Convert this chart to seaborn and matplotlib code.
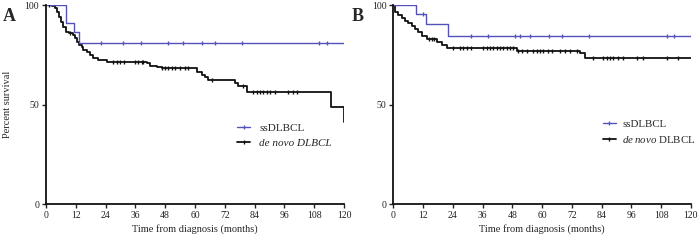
import numpy as np
import matplotlib
matplotlib.use("Agg")
import matplotlib.pyplot as plt
from matplotlib.lines import Line2D
import seaborn as sns

# ---- data (months, percent survival) ----
# panel A
a_ss_time = [0, 8.0, 11.3, 13.3, 120]
a_ss_surv = [100, 91.0, 86.3, 81.0, 81.0]
a_ss_cens = [22.0, 31.1, 38.1, 49.0, 55.1, 63.0, 67.9, 79.1, 109.9, 113.0]

a_dn_time = [0, 2.3, 3.6, 4.6, 5.4, 5.9, 7.0, 8.1, 9.4, 11.0, 11.7, 12.4, 13.4,
             14.4, 15.0, 16.4, 17.7, 19.1, 21.1, 24.4, 40.5, 41.9, 44.6, 46.6,
             60.7, 62.7, 64.0, 65.4, 76.1, 77.4, 80.8, 114.8, 120]
a_dn_surv = [100, 99.5, 98.3, 96.6, 94.1, 91.6, 89.1, 86.6, 85.8, 84.9, 83.3,
             81.6, 79.9, 78.7, 77.4, 76.5, 74.9, 73.2, 72.4, 71.5, 70.7, 69.3,
             69.0, 68.2, 66.5, 65.0, 63.8, 62.5, 61.0, 59.3, 56.2, 48.9, 41.0]
a_dn_cens = [1.2, 9.8, 27.1, 28.4, 29.8, 31.4, 35.8, 37.2, 38.5, 39.2, 46.8,
             48.0, 49.3, 50.6, 51.9, 53.9, 56.0, 57.3, 66.7, 79.5, 83.5, 84.8,
             86.2, 87.5, 88.8, 90.2, 92.2, 97.6, 99.6, 100.9]

# panel B
b_ss_time = [0, 9.2, 13.2, 22.2, 120]
b_ss_surv = [100, 95.3, 90.5, 84.4, 84.4]
b_ss_cens = [11.9, 31.2, 38.1, 49.1, 51.1, 55.2, 63.0, 68.2, 79.1, 110.3, 113.3]

b_dn_time = [0, 0.7, 2.0, 3.4, 4.7, 6.1, 7.4, 8.8, 10.1, 11.5, 13.5, 17.8,
             19.5, 21.5, 31.0, 49.8, 75.5, 77.3, 120]
b_dn_surv = [100, 96.6, 95.0, 93.3, 92.1, 90.8, 89.4, 87.8, 86.3, 84.4, 83.0,
             81.6, 79.9, 78.6, 78.2, 76.9, 75.7, 73.2, 73.2]
b_dn_cens = [14.5, 15.5, 16.5, 24.2, 26.9, 28.3, 29.6, 31.2, 36.3, 37.7, 39.0,
             40.4, 41.7, 43.1, 44.4, 45.8, 47.1, 48.4, 50.4, 51.8, 53.8, 56.5,
             57.9, 59.2, 60.5, 62.6, 63.9, 67.3, 69.3, 71.3, 74.0, 80.7, 84.7,
             86.1, 87.4, 88.7, 90.8, 92.8, 98.2, 100.9, 110.3, 115.0]

xticks = list(range(0, 121, 12))
yticks = [0, 50, 100]

BLUE = "#5252b8"
BLACK = "#111111"

sns.set_style("ticks")
plt.rcParams["font.family"] = ["Liberation Serif", "DejaVu Serif"]
plt.rcParams["mathtext.fontset"] = "custom"
plt.rcParams["mathtext.rm"] = "Liberation Serif"
plt.rcParams["mathtext.it"] = "Liberation Serif:italic"


def surv_at(times, surv, t):
    i = np.searchsorted(times, t, side="right") - 1
    return np.asarray(surv)[i]


def km(ax, times, surv, cens, color, lw):
    sns.lineplot(x=times, y=surv, ax=ax, color=color, lw=lw,
                 drawstyle="steps-post", estimator=None, sort=False)
    sns.scatterplot(x=cens, y=surv_at(times, surv, cens), ax=ax, color=color,
                    marker="|", s=6, linewidth=1.0, zorder=3)


fig = plt.figure(figsize=(7.0, 2.41), dpi=100)
ax_a = fig.add_axes([0.0657, 0.1535, 0.4257, 0.8257])
ax_b = fig.add_axes([0.5619, 0.1535, 0.4249, 0.8257])

panels = [
    (ax_a, a_ss_time, a_ss_surv, a_ss_cens, a_dn_time, a_dn_surv, a_dn_cens),
    (ax_b, b_ss_time, b_ss_surv, b_ss_cens, b_dn_time, b_dn_surv, b_dn_cens),
]

for ax, st, ss, sc, dt, ds, dc in panels:
    km(ax, dt, ds, dc, BLACK, 1.3)
    km(ax, st, ss, sc, BLUE, 1.0)
    ax.set_xlim(0, 120)
    ax.set_ylim(0, 100)
    ax.set_xticks(xticks)
    ax.set_yticks(yticks)
    ax.tick_params(labelsize=7, length=3, width=1, pad=2, colors="#222222")
    for s in ["top", "right"]:
        ax.spines[s].set_visible(False)
    for s in ["left", "bottom"]:
        ax.spines[s].set_linewidth(1.3)
        ax.spines[s].set_color(BLACK)
    ax.set_xlabel("Time from diagnosis (months)", fontsize=7.5, labelpad=3)
    ax.set_ylabel("")

ax_a.set_ylabel("Percent survival", fontsize=7.5, labelpad=9)

h_ss = Line2D([], [], color=BLUE, lw=1.0, marker="|", ms=2.5, mew=1)
h_dn = Line2D([], [], color=BLACK, lw=1.3, marker="|", ms=2.5, mew=1)

leg_a = ax_a.legend([h_ss, h_dn], ["ssDLBCL", "de novo DLBCL"], loc="upper left",
                    bbox_to_anchor=(0.641, 0.405), frameon=False, fontsize=8,
                    handlelength=1.2, handletextpad=0.8, borderpad=0,
                    borderaxespad=0, labelspacing=0.45)
leg_a.get_texts()[1].set_fontstyle("italic")

ax_b.legend([h_ss, h_dn], ["ssDLBCL", r"$\mathit{de\;novo}$ DLBCL"],
            loc="upper left", bbox_to_anchor=(0.704, 0.425), frameon=False,
            fontsize=7.8, handlelength=1.2, handletextpad=0.6, borderpad=0,
            borderaxespad=0, labelspacing=0.45)

fig.text(0.004, 0.965, "A", fontsize=13, fontweight="bold", va="top")
fig.text(0.503, 0.965, "B", fontsize=13, fontweight="bold", va="top")

fig.savefig("out.png", dpi=100)
